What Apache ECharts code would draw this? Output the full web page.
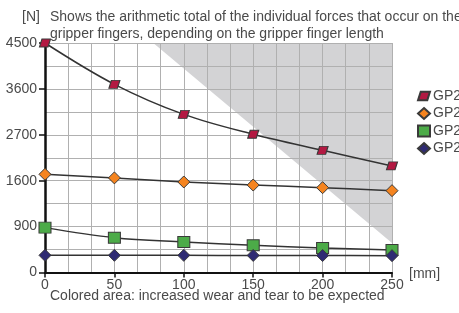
<!DOCTYPE html>
<html>
<head>
<meta charset="utf-8">
<script src="https://cdn.jsdelivr.net/npm/echarts@6/dist/echarts.min.js"></script>
<style>
  html, body { margin: 0; padding: 0; background: #fff; }
  #chart { width: 459px; height: 313px; }
</style>
</head>
<body>
<div id="chart"></div>
<script>
// finger length [mm]
var lengths = [0, 50, 100, 150, 200, 250];
var seriesNames = ['GP25', 'GP24', 'GP23', 'GP22'];
var gp1 = [4500, 3690, 3100, 2710, 2395, 2090];
var gp2 = [1925, 1855, 1775, 1715, 1663, 1605];
var gp3 = [880, 683, 598, 533, 480, 441];
var gp4 = [337, 337, 336, 335, 333, 330];
// y tick labels as printed in the source (third one reads 1600)
var yTickLabels = ['0', '900', '1600', '2700', '3600', '4500'];
var xTickLabels = ['0', '50', '100', '150', '200', '250'];
// wear zone edge: from (length, force) to (length, force)
var wearEdge = [[78, 4500], [250, 580]];

var colors = ['#b31942', '#f5841f', '#4cab48', '#2f2b73'];
var parallelogram = 'path://M2.5,0 L11,0 L8.5,8 L0,8 Z';
var symbols = [parallelogram, 'diamond', 'rect', 'diamond'];
var sizes = [[11, 8], 12, [12, 11], 12];
var textColor = '#4a4a4a';
var font = '"Liberation Sans", Arial, sans-serif';

function pts(vals) {
    return vals.map(function (v, i) { return [lengths[i], v]; });
}

var chart = echarts.init(document.getElementById('chart'));
var dataSets = [gp1, gp2, gp3, gp4];
var series = [{
    name: 'wear',
    type: 'line',
    z: -1,
    silent: true,
    symbol: 'none',
    lineStyle: { width: 0 },
    areaStyle: { color: '#d3d3d5', opacity: 1, origin: 'end' },
    data: wearEdge
}];
dataSets.forEach(function (d, i) {
    series.push({
        name: seriesNames[i],
        type: 'line',
        smooth: 0.35,
        symbol: symbols[i],
        symbolSize: sizes[i],
        lineStyle: { color: '#333', width: 1.5 },
        itemStyle: { color: colors[i], borderColor: '#3a3a3a', borderWidth: 1 },
        data: pts(d)
    });
});

var option = {
    animation: false,
    textStyle: { fontFamily: font },
    grid: { left: 45, right: 67, top: 43, bottom: 40.5 },
    legend: {
        orient: 'vertical',
        left: 417,
        top: 89,
        padding: 0,
        itemGap: 3.5,
        itemWidth: 12,
        itemHeight: 11,
        textStyle: { color: textColor, fontSize: 14, fontFamily: font, padding: [0, 0, 0, -2] },
        data: seriesNames.map(function (n, i) { return { name: n, icon: symbols[i] }; })
    },
    xAxis: {
        type: 'value',
        min: 0,
        max: 250,
        interval: 50,
        axisLine: { show: true, onZero: false, lineStyle: { color: '#111', width: 2 } },
        axisTick: { show: true, length: 5, lineStyle: { color: '#111', width: 1.5 } },
        axisLabel: {
            color: textColor, fontSize: 14, margin: 6, fontFamily: font,
            formatter: function (v) { return xTickLabels[Math.round(v / 50)]; }
        },
        splitLine: { show: true, lineStyle: { color: '#b0b0b0', width: 1 } },
        minorTick: { show: false, splitNumber: 3 },
        minorSplitLine: { show: true, lineStyle: { color: '#b0b0b0', width: 1 } }
    },
    yAxis: {
        type: 'value',
        min: 0,
        max: 4500,
        interval: 900,
        axisLine: { show: true, lineStyle: { color: '#111', width: 2.5 } },
        axisTick: { show: true, length: 6, lineStyle: { color: '#111', width: 1.5 } },
        axisLabel: {
            color: textColor, fontSize: 14, margin: 8, fontFamily: font,
            formatter: function (v) { return yTickLabels[Math.round(v / 900)]; }
        },
        splitLine: { show: true, lineStyle: { color: '#b0b0b0', width: 1 } },
        minorTick: { show: false, splitNumber: 2 },
        minorSplitLine: { show: true, lineStyle: { color: '#b0b0b0', width: 1 } }
    },
    graphic: [
        { type: 'text', left: 22, top: 10, style: { text: '[N]', fill: textColor, font: '14px ' + font } },
        { type: 'text', left: 50, top: 10, style: { text: 'Shows the arithmetic total of the individual forces that occur on the', fill: textColor, font: '14px ' + font } },
        { type: 'text', left: 50, top: 27, style: { text: 'gripper fingers, depending on the gripper finger length', fill: textColor, font: '14px ' + font } },
        { type: 'text', left: 409, top: 267, style: { text: '[mm]', fill: textColor, font: '14px ' + font } },
        { type: 'text', left: 50, top: 289, style: { text: 'Colored area: increased wear and tear to be expected', fill: textColor, font: '14px ' + font } }
    ],
    series: series
};
chart.setOption(option);
</script>
</body>
</html>
